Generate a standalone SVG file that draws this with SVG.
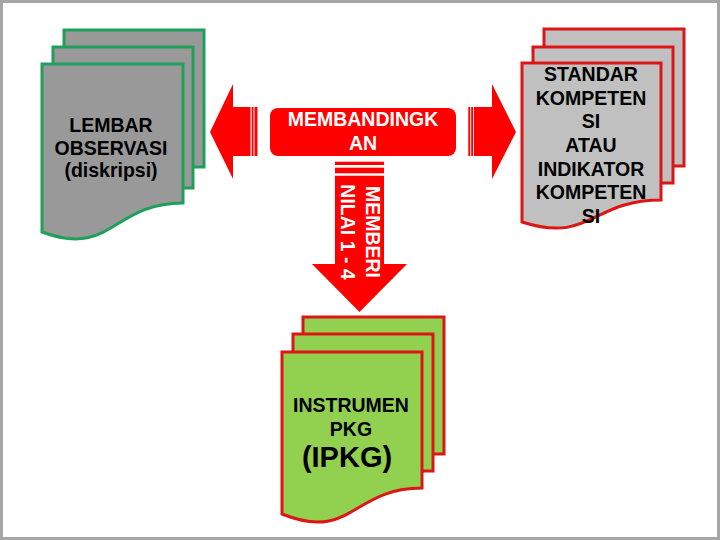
<svg xmlns="http://www.w3.org/2000/svg" width="720" height="540" viewBox="0 0 720 540">
<style>
.t{font-family:"Liberation Sans",Arial,sans-serif;font-weight:bold;text-anchor:middle;}
.dk{fill:#000;font-size:19.5px;}
.wt{fill:#fff;font-size:19.5px;}
.gdoc{fill:#999999;stroke:#1ea05a;stroke-width:3;}
.rdoc{fill:#c0c0c0;stroke:#dd1515;stroke-width:3;}
.ldoc{fill:#92d050;stroke:#dd1515;stroke-width:3;}
.red{fill:#ff0000;}
</style>
<rect x="1.5" y="1.5" width="717" height="537" fill="#fff" stroke="#a6a6a6" stroke-width="3"/>

<g id="connectors">
  <g id="arrow-left" class="red">
    <polygon points="210,132 233,84 233,107 250.5,107 250.5,156 233,156 233,179"/>
    <rect x="251.7" y="107" width="1.8" height="49"/>
    <rect x="254.5" y="107" width="3" height="49"/>
  </g>
  <g id="arrow-right" class="red">
    <polygon points="516,132 492,84 492,107 474,107 474,156 492,156 492,179"/>
    <rect x="468.3" y="107" width="1.9" height="49"/>
    <rect x="471.2" y="107" width="1.9" height="49"/>
  </g>
  <g id="arrow-down" class="red">
    <polygon points="335,175.7 384,175.7 384,264 407,264 359.5,312 312,264 335,264"/>
    <rect x="335" y="161.7" width="49" height="3.3"/>
    <rect x="335" y="167.7" width="49" height="5.6"/>
    <text class="t wt" transform="translate(365.5,232) rotate(90)">MEMBERI</text>
    <text class="t wt" transform="translate(341,232) rotate(90)">NILAI 1 - 4</text>
  </g>
</g>

<g id="node-membandingkan">
  <rect x="270" y="108" width="186" height="48" rx="8" class="red"/>
  <text class="t wt" x="363" y="126">MEMBANDINGK</text>
  <text class="t wt" x="363" y="150">AN</text>
</g>

<g id="node-lembar-observasi">
  <rect x="64" y="30" width="140" height="137" class="gdoc"/>
  <rect x="53" y="47" width="140" height="141" class="gdoc"/>
  <path d="M42,64 H183 V203 C112,203 112,258 42,232 Z" class="gdoc"/>
  <text class="t dk" x="111" y="132">LEMBAR</text>
  <text class="t dk" x="111" y="155">OBSERVASI</text>
  <text class="t dk" x="111" y="177">(diskripsi)</text>
</g>

<g id="node-standar-kompetensi">
  <rect x="544" y="29" width="140" height="137" class="rdoc"/>
  <rect x="533" y="47" width="140" height="136" class="rdoc"/>
  <path d="M522,63 H661 V200 C591,200 591,244 522,222 Z" class="rdoc"/>
  <text class="t dk" x="591" y="81">STANDAR</text>
  <text class="t dk" x="591" y="104.5">KOMPETEN</text>
  <text class="t dk" x="591" y="128">SI</text>
  <text class="t dk" x="591" y="152">ATAU</text>
  <text class="t dk" x="591" y="175.5">INDIKATOR</text>
  <text class="t dk" x="591" y="199">KOMPETEN</text>
  <text class="t dk" x="591" y="223">SI</text>
</g>

<g id="node-instrumen-pkg">
  <rect x="303" y="317" width="141" height="137" class="ldoc"/>
  <rect x="293" y="334" width="140" height="137" class="ldoc"/>
  <path d="M282,352 H422 V488 C352,488 352,542 282,514 Z" class="ldoc"/>
  <text class="t dk" x="351" y="412">INSTRUMEN</text>
  <text class="t dk" x="351" y="436">PKG</text>
  <text class="t dk" x="347" y="467" style="font-size:29px;">(IPKG)</text>
</g>
</svg>
